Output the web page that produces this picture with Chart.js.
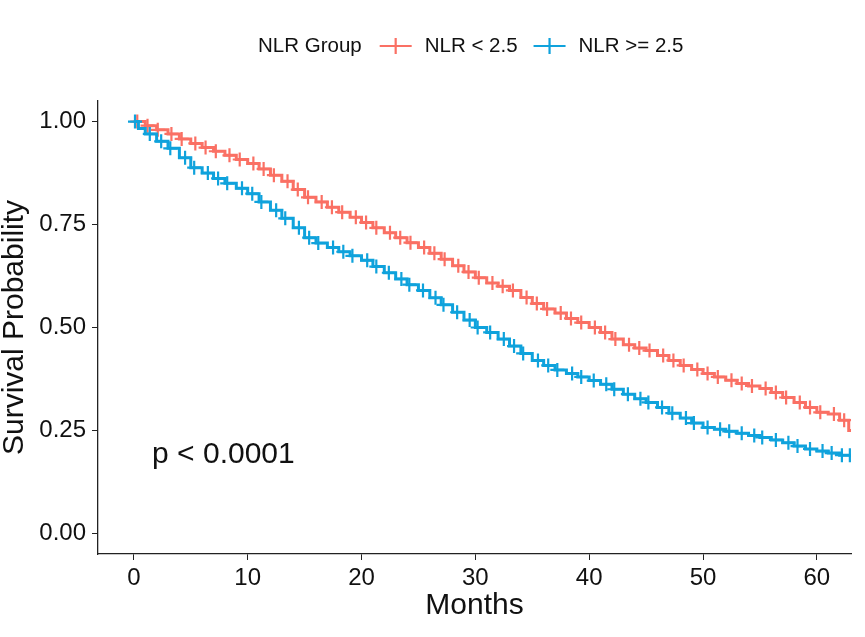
<!DOCTYPE html>
<html>
<head>
<meta charset="utf-8">
<script src="https://cdn.jsdelivr.net/npm/chart.js@4"></script>
<style>
  body { margin: 0; background: #fff; }
  canvas { display: block; }
</style>
</head>
<body>
<canvas id="km" width="865" height="637"></canvas>
<script>
// Kaplan-Meier curves
const groupNames = ['NLR < 2.5', 'NLR >= 2.5'];
const xTicks = [0, 10, 20, 30, 40, 50, 60];
const yTicks = [0, 0.25, 0.5, 0.75, 1];

const redTimes = [0, 1, 2, 3, 4, 5, 6, 7, 8, 9, 10, 11, 12, 13, 14, 15, 16, 17, 18, 19, 20,
  21, 22, 23, 24, 25, 26, 27, 28, 29, 30, 31, 32, 33, 34, 35, 36, 37, 38, 39, 40,
  41, 42, 43, 44, 45, 46, 47, 48, 49, 50, 51, 52, 53, 54, 55, 56, 57, 58, 59, 60,
  61, 62, 62.8, 63];
const redSurv = [1.000, 0.990, 0.980, 0.970, 0.958, 0.947, 0.937, 0.928, 0.918, 0.908, 0.898,
  0.885, 0.870, 0.855, 0.835, 0.816, 0.805, 0.792, 0.780, 0.768, 0.755,
  0.742, 0.730, 0.718, 0.706, 0.694, 0.680, 0.666, 0.650, 0.635, 0.621,
  0.608, 0.600, 0.590, 0.573, 0.558, 0.545, 0.535, 0.522, 0.512, 0.500,
  0.488, 0.472, 0.458, 0.450, 0.444, 0.432, 0.420, 0.408, 0.398, 0.388,
  0.380, 0.372, 0.364, 0.358, 0.352, 0.342, 0.330, 0.318, 0.306, 0.294,
  0.290, 0.275, 0.250, 0.250];

const blueTimes = [0, 0.4, 1, 2, 3, 4, 5, 6, 7, 8, 9, 10, 11, 12, 13, 14, 15, 16, 17, 18, 19, 20,
  21, 22, 23, 24, 25, 26, 27, 28, 29, 30, 31, 32, 33, 34, 35, 36, 37, 38, 39, 40,
  41, 42, 43, 44, 45, 46, 47, 48, 49, 50, 51, 52, 53, 54, 55, 56, 57, 58, 59, 60,
  61, 62, 63];
const blueSurv = [1.000, 0.983, 0.970, 0.952, 0.935, 0.912, 0.888, 0.875, 0.862, 0.850, 0.838, 0.825,
  0.805, 0.785, 0.765, 0.742, 0.718, 0.705, 0.694, 0.684, 0.674, 0.663,
  0.648, 0.633, 0.618, 0.604, 0.590, 0.572, 0.555, 0.537, 0.518, 0.500,
  0.488, 0.472, 0.455, 0.437, 0.420, 0.408, 0.397, 0.388, 0.380, 0.371,
  0.362, 0.350, 0.338, 0.327, 0.318, 0.306, 0.292, 0.280, 0.268, 0.257,
  0.253, 0.248, 0.243, 0.238, 0.233, 0.227, 0.220, 0.212, 0.205, 0.200,
  0.195, 0.190, 0.185];

// censoring times (the + marks)
const redCensor = [0.3, 1.2, 2.1, 3.3, 4.2, 5.4, 6.3, 7.2, 8.4, 9.3, 10.5, 11.4, 12.3, 13.5, 14.4,
  15.3, 16.5, 17.4, 18.3, 19.5, 20.4, 21.3, 22.5, 23.4, 24.3, 25.5, 26.4, 27.3, 28.5, 29.4,
  30.3, 31.5, 32.4, 33.3, 34.5, 35.4, 36.3, 37.5, 38.4, 39.3, 40.5, 41.4, 42.3, 43.5, 44.4,
  45.3, 46.5, 47.4, 48.3, 49.5, 50.4, 51.3, 52.5, 53.4, 54.3, 55.5, 56.4, 57.3, 58.5, 59.4,
  60.3, 61.5, 62.4];
const blueCensor = [0.1, 1.4, 2.4, 3.2, 4.5, 5.3, 6.5, 7.4, 8.2, 9.5, 10.4, 11.2, 12.5, 13.3, 14.5,
  15.4, 16.2, 17.5, 18.4, 19.2, 20.5, 21.3, 22.4, 23.5, 24.2, 25.4, 26.5, 27.2, 28.4, 29.5,
  30.2, 31.3, 32.5, 33.4, 34.2, 35.5, 36.4, 37.2, 38.5, 39.3, 40.4, 41.5, 42.2, 43.4, 44.5,
  45.2, 46.4, 47.3, 48.5, 49.2, 50.4, 51.5, 52.3, 53.4, 54.5, 55.2, 56.4, 57.5, 58.3, 59.4,
  60.5, 61.3, 62.2, 62.9];

const pValueText = 'p < 0.0001';

const RED = '#FA7064';
const BLUE = '#0FA2DC';
const FONT = '"Liberation Sans", Arial, sans-serif';

function stepValue(times, surv, t) {
  let v = surv[0];
  for (let i = 0; i < times.length; i++) {
    if (times[i] <= t) v = surv[i];
  }
  return v;
}

function toPoints(times, surv) {
  return times.map((t, i) => ({ x: t, y: surv[i] }));
}

function censorPoints(censor, times, surv) {
  return censor.map(t => ({ x: t, y: stepValue(times, surv, t) }));
}

const extras = {
  id: 'extras',
  afterDraw(chart) {
    const ctx = chart.ctx;
    const xs = chart.scales.x;
    const ys = chart.scales.y;

    // p value
    ctx.save();
    ctx.fillStyle = '#111';
    ctx.font = '30px ' + FONT;
    ctx.textAlign = 'left';
    ctx.textBaseline = 'middle';
    ctx.fillText(pValueText, xs.getPixelForValue(1.6), ys.getPixelForValue(0.19));
    ctx.restore();

    // legend
    ctx.save();
    ctx.font = '20.5px ' + FONT;
    ctx.textBaseline = 'middle';
    ctx.fillStyle = '#111';
    const ly = 46;
    let lx = 258;
    ctx.fillText('NLR Group', lx, ly);
    lx += ctx.measureText('NLR Group').width + 18;
    [RED, BLUE].forEach((col, i) => {
      ctx.strokeStyle = col;
      ctx.lineWidth = 2.2;
      ctx.beginPath();
      ctx.moveTo(lx, ly);
      ctx.lineTo(lx + 32, ly);
      ctx.moveTo(lx + 16, ly - 8);
      ctx.lineTo(lx + 16, ly + 8);
      ctx.stroke();
      lx += 45;
      ctx.fillStyle = '#111';
      ctx.fillText(groupNames[i], lx, ly);
      lx += ctx.measureText(groupNames[i]).width + 16;
    });
    ctx.restore();
  }
};

new Chart(document.getElementById('km'), {
  type: 'line',
  data: {
    datasets: [
      {
        label: groupNames[1] + ' censor',
        data: censorPoints(blueCensor, blueTimes, blueSurv),
        showLine: false,
        pointStyle: 'cross',
        pointRadius: 7,
        borderWidth: 2.2,
        borderColor: BLUE
      },
      {
        label: groupNames[1],
        data: toPoints(blueTimes, blueSurv),
        stepped: true,
        borderColor: BLUE,
        borderWidth: 3,
        pointRadius: 0,
        fill: false
      },
      {
        label: groupNames[0] + ' censor',
        data: censorPoints(redCensor, redTimes, redSurv),
        showLine: false,
        pointStyle: 'cross',
        pointRadius: 7,
        borderWidth: 2.2,
        borderColor: RED
      },
      {
        label: groupNames[0],
        data: toPoints(redTimes, redSurv),
        stepped: true,
        borderColor: RED,
        borderWidth: 3,
        pointRadius: 0,
        fill: false
      }
    ]
  },
  options: {
    responsive: false,
    animation: false,
    layout: { padding: { top: 101, right: 14, bottom: 0, left: 0 } },
    plugins: {
      legend: { display: false },
      tooltip: { enabled: false }
    },
    scales: {
      x: {
        type: 'linear',
        min: -3.15,
        max: 63,
        afterBuildTicks: s => { s.ticks = xTicks.map(v => ({ value: v })); },
        afterFit: s => { s.height = 83; },
        grid: { display: true, drawOnChartArea: false, drawTicks: true, tickLength: 6, color: '#222' },
        border: { display: true, color: '#222', width: 1.3 },
        ticks: { color: '#111', font: { family: FONT, size: 24 }, padding: 4, maxRotation: 0 },
        title: { display: true, text: 'Months', color: '#111', font: { family: FONT, size: 30 }, padding: { top: 0, bottom: 13 } }
      },
      y: {
        min: -0.05,
        max: 1.05,
        afterBuildTicks: s => { s.ticks = yTicks.map(v => ({ value: v })); },
        afterFit: s => { s.width = 98; },
        grid: { display: true, drawOnChartArea: false, drawTicks: true, tickLength: 6, color: '#222' },
        border: { display: true, color: '#222', width: 1.3 },
        ticks: { color: '#111', font: { family: FONT, size: 24 }, padding: 6, callback: v => v.toFixed(2) },
        title: { display: true, text: 'Survival Probability', color: '#111', font: { family: FONT, size: 30 }, padding: { top: -3, bottom: 0 } }
      }
    }
  },
  plugins: [extras]
});
</script>
</body>
</html>
